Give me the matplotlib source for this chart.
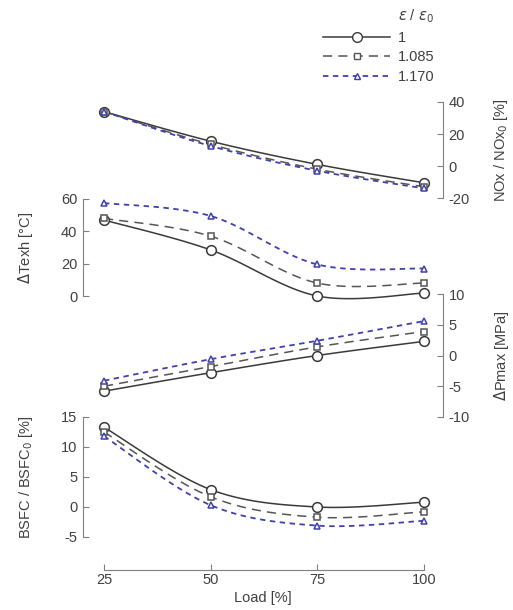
import numpy as np
import matplotlib.pyplot as plt
from matplotlib.lines import Line2D

plt.rcParams['font.family'] = ['Liberation Sans', 'DejaVu Sans']
plt.rcParams['font.size'] = 10.5
plt.rcParams['axes.unicode_minus'] = False

load = [25, 50, 75, 100]
ratios = ['1', '1.085', '1.170']

# relative NOx [%]
nox = [[34, 15.5, 1, -10.5],
       [34, 13.5, -2, -13],
       [34, 12.5, -3, -14]]
# exhaust temperature change [degC]
texh = [[47, 28.5, 0, 1.8],
        [48, 37, 8, 8],
        [57.5, 49.5, 19.5, 17]]
# peak pressure change [MPa]
pmax = [[-5.8, -2.8, 0, 2.3],
        [-5.0, -1.8, 1.4, 3.9],
        [-4.1, -0.6, 2.4, 5.6]]
# relative BSFC [%]
bsfc = [[13.3, 2.9, 0, 0.8],
        [12.5, 1.7, -1.7, -0.8],
        [11.8, 0.3, -3.1, -2.3]]

styles = [dict(color='#3a3a3a', ls='-', marker='o', ms=7, lw=1.1),
          dict(color='#555555', ls=(0, (6, 4)), marker='s', ms=4, lw=1.1),
          dict(color='#4040b0', ls=(0, (3, 2.5)), marker='^', ms=4.5, lw=1.3)]

grey = '#808080'
txt = '#404040'


def smooth(x, y, n=30):
    # bezier smoothing through the points (catmull-rom style)
    x = np.asarray(x, float)
    y = np.asarray(y, float)
    px = np.concatenate([[x[0]], x, [x[-1]]])
    py = np.concatenate([[y[0]], y, [y[-1]]])
    xs, ys = [], []
    t = np.linspace(0, 1, n)
    for i in range(1, len(px) - 2):
        p0 = np.array([px[i], py[i]])
        p3 = np.array([px[i + 1], py[i + 1]])
        p1 = p0 + (np.array([px[i + 1], py[i + 1]]) - np.array([px[i - 1], py[i - 1]])) / 6
        p2 = p3 - (np.array([px[i + 2], py[i + 2]]) - np.array([px[i], py[i]])) / 6
        b = ((1 - t) ** 3)[:, None] * p0 + (3 * (1 - t) ** 2 * t)[:, None] * p1 \
            + (3 * (1 - t) * t ** 2)[:, None] * p2 + (t ** 3)[:, None] * p3
        xs.extend(b[:, 0])
        ys.extend(b[:, 1])
    return xs, ys


fig = plt.figure(figsize=(5.13, 6.10), dpi=100)
W, H = 513.0, 610.0
xl, xr = 83.0, 443.0
x0 = 25 - 21 / 320.0 * 75
x1 = 100 + 19 / 320.0 * 75


def make_axes(top, bottom, lim, ticks, side, label, data):
    ax = fig.add_axes([xl / W, (H - bottom) / H, (xr - xl) / W, (bottom - top) / H])
    ax.patch.set_visible(False)
    ax.set_xlim(x0, x1)
    ax.set_ylim(*lim)
    for s in ax.spines.values():
        s.set_visible(False)
    ax.spines[side].set_visible(True)
    ax.spines[side].set_color(grey)
    ax.spines[side].set_bounds(lim[0], lim[1])
    ax.yaxis.set_ticks_position(side)
    ax.yaxis.set_label_position(side)
    ax.set_yticks(ticks)
    ax.tick_params(axis='y', direction='in', length=4, color=grey, labelcolor=txt, pad=4)
    ax.set_xticks([])
    ax.set_ylabel(label, color=txt)
    if side == 'left':
        ax.yaxis.set_label_coords(-0.133, 0.5)
    else:
        ax.yaxis.set_label_coords(1.136, 0.5)
    for vals, st in zip(data, styles):
        sx, sy = smooth(load, vals)
        ax.plot(sx, sy, color=st['color'], ls=st['ls'], lw=st['lw'], clip_on=False)
        ax.plot(load, vals, ls='none', marker=st['marker'], ms=st['ms'],
                mfc='white', mec=st['color'], mew=1.1, clip_on=False, zorder=3)
    return ax


make_axes(102, 198, (-20, 40), [-20, 0, 20, 40], 'right', 'NOx / NOx$_0$ [%]', nox)
make_axes(199, 296, (0, 60), [0, 20, 40, 60], 'left', '$\\Delta$Texh [°C]', texh)
make_axes(294, 417, (-10, 10), [-10, -5, 0, 5, 10], 'right', '$\\Delta$Pmax [MPa]', pmax)
ax4 = make_axes(417, 537, (-5, 15), [-5, 0, 5, 10, 15], 'left', 'BSFC / BSFC$_0$ [%]', bsfc)

ax4.spines['bottom'].set_visible(True)
ax4.spines['bottom'].set_position(('outward', 24))
ax4.spines['bottom'].set_bounds(25, 100)
ax4.spines['bottom'].set_color(grey)
ax4.xaxis.set_ticks_position('bottom')
ax4.set_xticks(load)
ax4.tick_params(axis='x', direction='in', length=4, color=grey, labelcolor=txt, pad=2)
ax4.set_xlabel('Load [%]', color=txt, labelpad=3)

handles = [Line2D([], [], color=st['color'], ls=st['ls'], lw=st['lw'], marker=st['marker'],
                  ms=st['ms'], mfc='white', mec=st['color']) for st in styles]
leg = fig.legend(handles, ratios, title='$\\varepsilon$ / $\\varepsilon_0$', loc='upper left',
                 bbox_to_anchor=(310 / W, 1 + 6 / H), frameon=False, handlelength=4.6,
                 numpoints=1, labelspacing=0.4, handletextpad=0.5, alignment='right')
for t in leg.get_texts():
    t.set_color(txt)
leg.get_title().set_color(txt)

fig.savefig('out.png', dpi=100)
